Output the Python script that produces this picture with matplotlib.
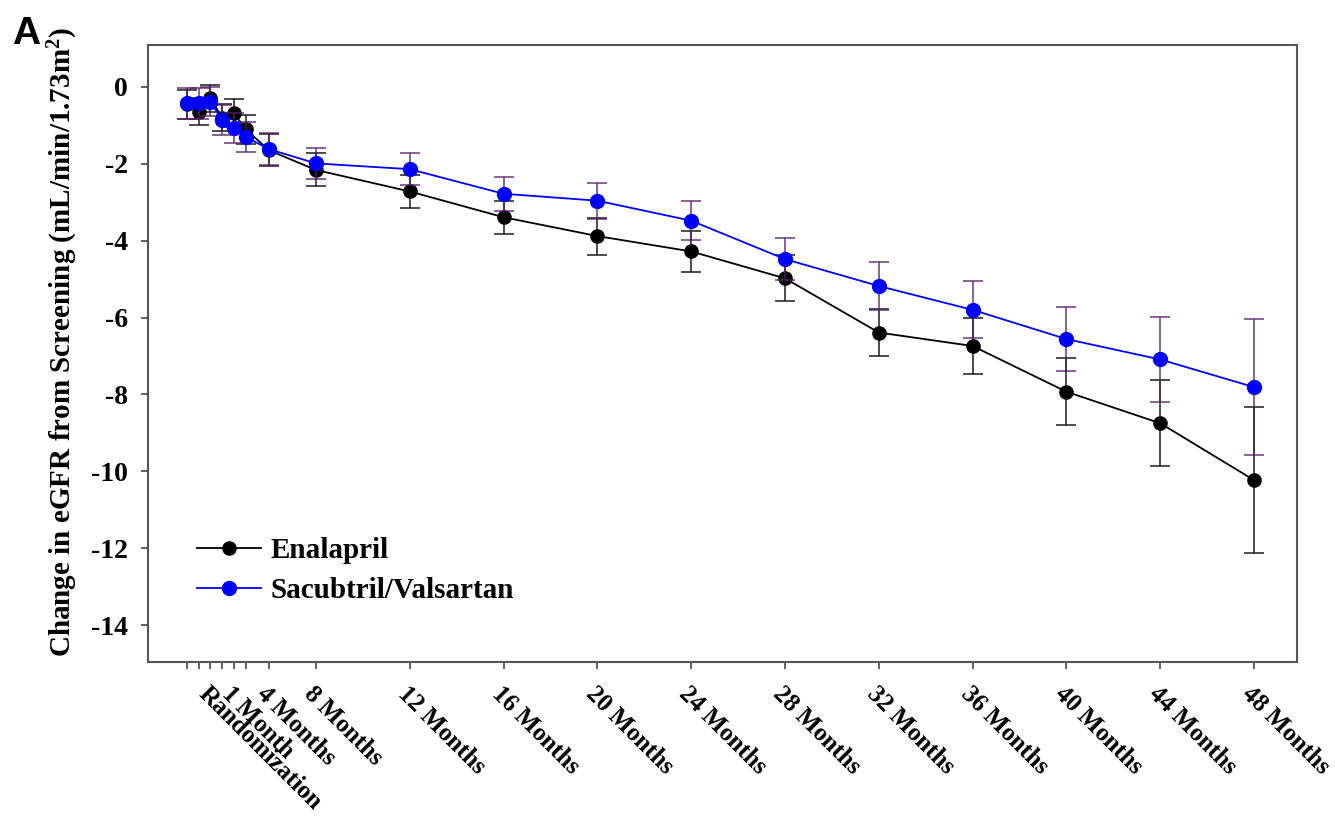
import matplotlib
matplotlib.use('Agg')
import matplotlib.pyplot as plt

# ---------------- data ----------------
x_pos = [2.5, 3, 3.5, 4, 4.5, 5, 6, 8, 12, 16, 20, 24, 28, 32, 36, 40, 44, 48]
x_labels = ['', '', 'Randomization', '', '1 Month', '', '4 Months', '8 Months',
            '12 Months', '16 Months', '20 Months', '24 Months', '28 Months',
            '32 Months', '36 Months', '40 Months', '44 Months', '48 Months']

enalapril = [-0.45, -0.64, -0.30, -0.80, -0.68, -1.10, -1.65, -2.16, -2.72,
             -3.39, -3.88, -4.28, -4.98, -6.39, -6.74, -7.93, -8.75, -10.23]
enalapril_err = [0.38, 0.36, 0.35, 0.36, 0.36, 0.38, 0.42, 0.43, 0.44,
                 0.43, 0.48, 0.53, 0.60, 0.62, 0.74, 0.87, 1.12, 1.90]

sacval = [-0.43, -0.43, -0.38, -0.86, -1.07, -1.30, -1.62, -1.99, -2.14,
          -2.78, -2.96, -3.48, -4.48, -5.18, -5.80, -6.56, -7.09, -7.81]
sacval_err = [0.40, 0.40, 0.38, 0.38, 0.38, 0.40, 0.42, 0.41, 0.42,
              0.44, 0.47, 0.51, 0.55, 0.62, 0.74, 0.84, 1.10, 1.77]

y_ticks = [0, -2, -4, -6, -8, -10, -12, -14]
series_names = ['Enalapril', 'Sacubtril/Valsartan']
y_label = 'Change in eGFR from Screening (mL/min/1.73m$^{2}$)'

# ---------------- style ----------------
plt.rcParams['font.family'] = ['Liberation Serif', 'DejaVu Serif']
plt.rcParams['font.weight'] = 'bold'
plt.rcParams['mathtext.fontset'] = 'custom'
plt.rcParams['mathtext.rm'] = 'Liberation Serif:bold'
plt.rcParams['mathtext.bf'] = 'Liberation Serif:bold'
plt.rcParams['mathtext.it'] = 'Liberation Serif:bold'

FS = 20
XFS = 18
spine_col = '#555555'

fig = plt.figure(figsize=(13.35, 8.16), dpi=100)
ax = fig.add_axes([148/1335, 1-662/816, (1297-148)/1335, (662-45)/816])

# error bars
ax.errorbar(x_pos, enalapril, yerr=enalapril_err, fmt='none', ecolor='#111111',
            alpha=0.75, elinewidth=1.4, capsize=7.5, capthick=1.4, zorder=2)
ax.plot(x_pos, enalapril, '-o', color='black', lw=1.3, ms=9.5, zorder=3,
        label=series_names[0])
ax.errorbar(x_pos, sacval, yerr=sacval_err, fmt='none', ecolor='#5A1E6A',
            alpha=0.7, elinewidth=1.4, capsize=7.5, capthick=1.4, zorder=4)
ax.plot(x_pos, sacval, '-o', color='#0000FF', lw=1.3, ms=10, zorder=5,
        label=series_names[1])

ax.set_xlim(0.84, 49.83)
ax.set_ylim(-14.96, 1.09)

ax.set_yticks(y_ticks)
ax.set_yticklabels([str(v) for v in y_ticks], fontsize=FS, fontweight='bold')
ax.set_xticks(x_pos)
ax.set_xticklabels(x_labels, fontsize=XFS, fontweight='bold', rotation=-45,
                   ha='left', va='top', rotation_mode='anchor')

ax.tick_params(axis='both', direction='out', length=5, width=1.3,
               color=spine_col)
ax.tick_params(axis='y', pad=9.5)
ax.tick_params(axis='x', pad=9.5)

for s in ax.spines.values():
    s.set_color(spine_col)
    s.set_linewidth(1.5)

ax.set_ylabel(y_label, fontsize=21, fontweight='bold')
ax.yaxis.set_label_coords((63-148)/1149, (662-342)/617)
ax.yaxis.label.set_verticalalignment('center')

leg = ax.legend(loc='upper left', bbox_to_anchor=((197-148)/1149, (662-537)/617),
                frameon=False, handlelength=2.2, handletextpad=0.33,
                labelspacing=0.46, borderpad=0, borderaxespad=0,
                prop={'weight': 'bold', 'size': 21})

fig.text(12/1335, 1-44/816, 'A', fontsize=28, fontweight='bold',
         family=['Liberation Sans', 'DejaVu Sans'], ha='left', va='baseline')

fig.savefig('out.png', dpi=100)
